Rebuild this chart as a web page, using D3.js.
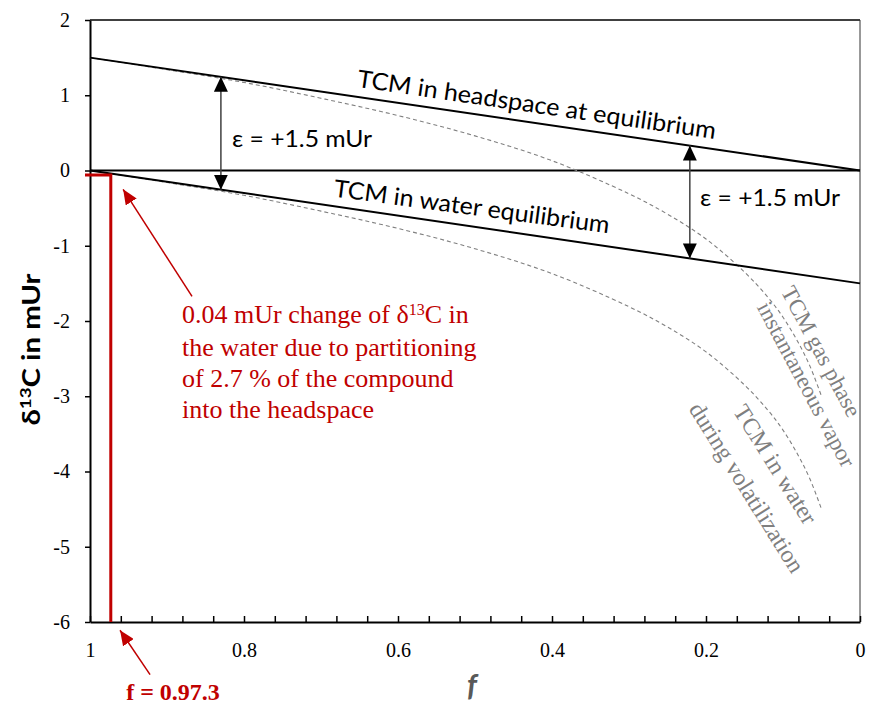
<!DOCTYPE html>
<html>
<head>
<meta charset="utf-8">
<script src="https://cdn.jsdelivr.net/npm/d3@7"></script>
<style>
  body { margin: 0; background: #fff; }
</style>
</head>
<body>
<div id="chart"></div>
<script>
// Chart data
const fEq = [1, 0];
const headspaceEq = [1.5, 0];     // TCM in headspace at equilibrium
const waterEq = [0, -1.5];        // TCM in water equilibrium

const fCurve = [1, 0.9, 0.8, 0.7, 0.6, 0.5, 0.4, 0.3, 0.25, 0.2, 0.15, 0.12, 0.1, 0.08, 0.065, 0.05];
const gasVapor = [1.5, 1.34, 1.17, 0.96, 0.73, 0.46, 0.13, -0.31, -0.58, -0.91, -1.35, -1.68, -1.95, -2.29, -2.6, -3.0];
const waterVolat = [0, -0.16, -0.33, -0.54, -0.77, -1.04, -1.37, -1.81, -2.08, -2.41, -2.85, -3.18, -3.45, -3.79, -4.1, -4.5];

const yTicks = [2, 1, 0, -1, -2, -3, -4, -5, -6];
const xMajor = [1, 0.8, 0.6, 0.4, 0.2, 0];
const xMinor = d3.range(0, 26).map(i => +(i * 0.04).toFixed(2));

const epsArrowF = [0.83, 0.221];
const fHeadspace = 0.973;   // f = 0.97.3
const dShift = -0.06;       // drawn shift of water delta

// Set up dimensions
const width = 869;
const height = 708;
const margin = { top: 20, right: 9, bottom: 86, left: 90 };

const svg = d3.select("#chart")
    .append("svg")
    .attr("width", width)
    .attr("height", height);

const x = d3.scaleLinear().domain([1, 0]).range([margin.left, width - margin.right]);
const y = d3.scaleLinear().domain([-6, 2]).range([height - margin.bottom, margin.top]);

const headLine = d3.scaleLinear().domain(fEq).range(headspaceEq);
const waterLine = d3.scaleLinear().domain(fEq).range(waterEq);

const serif = "'Liberation Serif', 'Times New Roman', serif";
const sans = "Lato, 'Open Sans', sans-serif";
const red = "#c00000";

// Arrow heads
const defs = svg.append("defs");
function marker(id, color, w, l) {
    defs.append("marker")
        .attr("id", id)
        .attr("markerUnits", "userSpaceOnUse")
        .attr("viewBox", `0 ${-w / 2} ${l} ${w}`)
        .attr("refX", l)
        .attr("refY", 0)
        .attr("markerWidth", l)
        .attr("markerHeight", w)
        .attr("orient", "auto-start-reverse")
        .append("path")
        .attr("d", `M0,${-w / 2}L${l},0L0,${w / 2}Z`)
        .attr("fill", color);
}
marker("headBlack", "#000", 14, 15);
marker("headRed", red, 13, 15);

// Plot frame: top and right border
svg.append("line")
    .attr("x1", x(1)).attr("x2", x(0))
    .attr("y1", y(2)).attr("y2", y(2))
    .attr("stroke", "#000").attr("stroke-width", 1.5);
svg.append("line")
    .attr("x1", x(0)).attr("x2", x(0))
    .attr("y1", y(2)).attr("y2", y(-6))
    .attr("stroke", "#333").attr("stroke-width", 1);

// Zero line
svg.append("line")
    .attr("x1", x(1)).attr("x2", x(0))
    .attr("y1", y(0)).attr("y2", y(0))
    .attr("stroke", "#000").attr("stroke-width", 2);

// X axis (ticks point inward)
const xAxis = svg.append("g")
    .attr("transform", `translate(0, ${y(-6)})`)
    .call(d3.axisBottom(x)
        .tickValues(xMinor)
        .tickSizeInner(-6)
        .tickSizeOuter(0)
        .tickFormat(d => xMajor.some(m => Math.abs(m - d) < 1e-6) ? String(d) : ""));
xAxis.select(".domain").attr("stroke-width", 2);
xAxis.selectAll(".tick line").attr("stroke-width", 1.5);
xAxis.selectAll("text")
    .attr("y", 35).attr("dy", 0)
    .attr("font-family", serif).attr("font-size", 20).attr("fill", "#000");

// Y axis
const yAxis = svg.append("g")
    .attr("transform", `translate(${margin.left}, 0)`)
    .call(d3.axisLeft(y).tickValues(yTicks).tickSizeInner(5).tickSizeOuter(0).tickPadding(15)
        .tickFormat(d => String(d)));
yAxis.select(".domain").attr("stroke-width", 2);
yAxis.selectAll(".tick line").attr("stroke-width", 1.5);
yAxis.selectAll("text")
    .attr("font-family", serif).attr("font-size", 20).attr("fill", "#000");

// Dashed Rayleigh curves
const curve = d3.line()
    .x(d => x(d[0]))
    .y(d => y(d[1]))
    .curve(d3.curveCatmullRom);

[gasVapor, waterVolat].forEach(vals => {
    svg.append("path")
        .datum(fCurve.map((f, i) => [f, vals[i]]))
        .attr("d", curve)
        .attr("fill", "none")
        .attr("stroke", "#808080")
        .attr("stroke-width", 1.1)
        .attr("stroke-dasharray", "4,3");
});

// Equilibrium lines
[headspaceEq, waterEq].forEach(vals => {
    svg.append("path")
        .datum(fEq.map((f, i) => [f, vals[i]]))
        .attr("d", d3.line().x(d => x(d[0])).y(d => y(d[1])))
        .attr("fill", "none")
        .attr("stroke", "#000")
        .attr("stroke-width", 2);
});

// Epsilon arrows
epsArrowF.forEach(f => {
    svg.append("line")
        .attr("x1", x(f)).attr("x2", x(f))
        .attr("y1", y(waterLine(f))).attr("y2", y(headLine(f)))
        .attr("stroke", "#404040")
        .attr("stroke-width", 1.5)
        .attr("marker-start", "url(#headBlack)")
        .attr("marker-end", "url(#headBlack)");
});

// Red markers for f = 0.973
svg.append("path")
    .attr("d", `M${x(1) - 5},${y(dShift)}H${x(fHeadspace)}V${y(-6)}`)
    .attr("fill", "none")
    .attr("stroke", red)
    .attr("stroke-width", 3);

// Red annotation arrows
[[[0.8675, -1.674], [0.957, -0.25]], [[0.922, -6.70], [0.961, -6.11]]].forEach(([a, b]) => {
    svg.append("line")
        .attr("x1", x(a[0])).attr("y1", y(a[1]))
        .attr("x2", x(b[0])).attr("y2", y(b[1]))
        .attr("stroke", red)
        .attr("stroke-width", 1.5)
        .attr("marker-end", "url(#headRed)");
});

// Line labels
function rotText(f, d, angle, txt, opts) {
    const t = svg.append("text")
        .attr("transform", `translate(${x(f)},${y(d)}) rotate(${angle})`)
        .attr("text-anchor", "middle")
        .attr("dominant-baseline", "central")
        .attr("font-family", opts.family)
        .attr("font-size", opts.size)
        .attr("fill", opts.color)
        .text(txt);
    if (opts.len) t.attr("textLength", opts.len).attr("lengthAdjust", "spacingAndGlyphs");
    return t;
}
rotText(0.4195, 0.89, 8.3, "TCM in headspace at equilibrium", { family: sans, size: 24, color: "#000", len: 362 });
rotText(0.5039, -0.465, 7.6, "TCM in water equilibrium", { family: sans, size: 24, color: "#000", len: 278 });

rotText(0.0506, -2.405, 62, "TCM gas phase", { family: serif, size: 23, color: "#7f7f7f" });
rotText(0.070, -2.844, 62, "instantaneous vapor", { family: serif, size: 23, color: "#7f7f7f" });
rotText(0.110, -3.907, 58, "TCM in water", { family: serif, size: 24, color: "#7f7f7f" });
rotText(0.147, -4.213, 58, "during volatilization", { family: serif, size: 24, color: "#7f7f7f" });

// Epsilon labels
[[0.8156, 0.306], [0.2078, -0.478]].forEach(([f, d]) => {
    svg.append("text")
        .attr("x", x(f)).attr("y", y(d))
        .attr("font-family", sans)
        .attr("font-size", 24)
        .attr("fill", "#000")
        .attr("textLength", 140)
        .attr("lengthAdjust", "spacingAndGlyphs")
        .text("ε = +1.5 mUr");
});

// Red explanation text
const note = svg.append("text")
    .attr("x", x(0.8805)).attr("y", y(-2.02))
    .attr("font-family", serif)
    .attr("font-size", 26)
    .attr("fill", red);
const l1 = note.append("tspan").attr("x", x(0.8805));
l1.append("tspan").text("0.04 mUr change of δ");
l1.append("tspan").attr("baseline-shift", "super").attr("font-size", 16).text("13");
l1.append("tspan").text("C in");
["the water due to partitioning", "of 2.7 % of the compound", "into the headspace"].forEach((s, i) => {
    note.append("tspan")
        .attr("x", x(0.8805))
        .attr("y", y(-2.02) + 33 + i * 31)
        .text(s);
});

svg.append("text")
    .attr("x", x(0.953)).attr("y", y(-7.03))
    .attr("font-family", serif)
    .attr("font-size", 24)
    .attr("font-weight", "bold")
    .attr("fill", red)
    .text("f = 0.97.3");

// Axis titles
svg.append("text")
    .attr("x", x(0.504)).attr("y", height - 12)
    .attr("text-anchor", "middle")
    .attr("font-family", sans)
    .attr("font-size", 30)
    .attr("font-style", "italic")
    .attr("font-weight", "bold")
    .attr("fill", "#595959")
    .text("f");

const yTitle = svg.append("text")
    .attr("transform", `translate(40, ${y(-2.38)}) rotate(-90)`)
    .attr("text-anchor", "middle")
    .attr("font-family", sans)
    .attr("font-size", 25)
    .attr("font-weight", "bold")
    .attr("fill", "#000")
    .attr("textLength", 152)
    .attr("lengthAdjust", "spacingAndGlyphs");
yTitle.append("tspan").text("δ");
yTitle.append("tspan").attr("baseline-shift", "super").attr("font-size", 16).text("13");
yTitle.append("tspan").text("C in mUr");
</script>
</body>
</html>
